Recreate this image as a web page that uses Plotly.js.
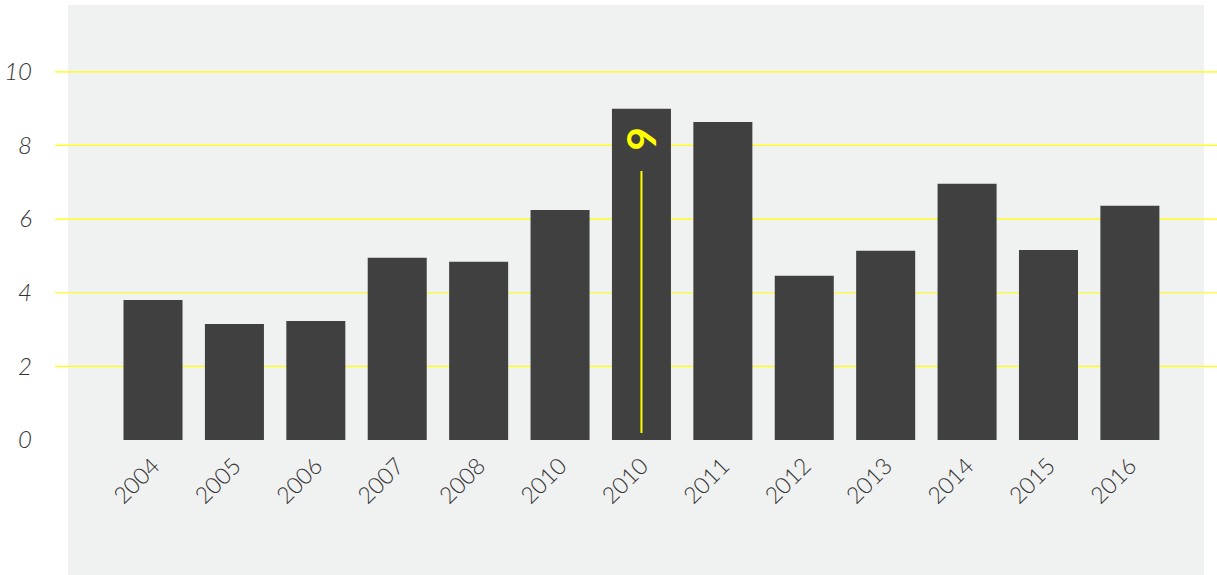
<!DOCTYPE html>
<html>
<head>
<meta charset="utf-8">
<script src="https://cdn.plot.ly/plotly-3.0.1.min.js"></script>
<style>html,body{margin:0;padding:0;background:#fff;}#chart{width:1217px;height:575px;}</style>
</head>
<body>
<div id="chart"></div>
<script>
const yearLabels = ["2004","2005","2006","2007","2008","2010","2010","2011","2012","2013","2014","2015","2016"];
const positions = [0,1,2,3,4,5,6,7,8,9,10,11,12];
const values = [3.8,3.15,3.23,4.95,4.84,6.25,9.0,8.64,4.46,5.14,6.96,5.16,6.36];
const yTicks = [0,2,4,6,8,10];
const gridValues = [2,4,6,8,10];
const highlightIndex = 6;
const highlightLabel = "9";

const trace = {
  type: 'bar',
  x: positions,
  y: values,
  width: 0.725,
  marker: {color: '#404041'},
  hoverinfo: 'skip'
};

const shapes = [{
  type: 'rect', xref: 'paper', yref: 'paper', layer: 'below',
  x0: (68-55)/1162, x1: (1204-55)/1162,
  y0: -(575-440)/405, y1: (440-5)/405,
  fillcolor: '#f0f2f1', line: {width: 0}
}].concat(gridValues.map(v => ({
  type: 'line', xref: 'paper', yref: 'y', layer: 'below',
  x0: 0, x1: 1, y0: v, y1: v,
  line: {color: '#ffff00', width: 1.2}
})));

const layout = {
  width: 1217, height: 575,
  margin: {l: 55, r: 0, t: 35, b: 135},
  paper_bgcolor: '#ffffff',
  plot_bgcolor: 'rgba(0,0,0,0)',
  showlegend: false,
  font: {family: 'Lato, sans-serif', color: '#333333'},
  xaxis: {
    range: [-1.204, 13.07],
    tickvals: positions,
    ticktext: yearLabels,
    tickangle: -45,
    showgrid: false, zeroline: false, showline: false,
    ticks: '',
    ticklabelstandoff: 7,
    tickfont: {family: 'Lato, sans-serif', size: 23, color: '#333333', weight: 300}
  },
  yaxis: {
    range: [0, 11.0],
    tickvals: yTicks,
    ticktext: yTicks.map(String),
    showgrid: false,
    zeroline: false, showline: false,
    ticks: '',
    ticklabelstandoff: 22,
    tickfont: {family: 'Lato, sans-serif', size: 24, color: '#333333', style: 'italic', weight: 300}
  },
  shapes: shapes,
  annotations: [{
    x: positions[highlightIndex], y: 0.19,
    xref: 'x', yref: 'y',
    text: '<b>' + highlightLabel + '</b>',
    textangle: -90,
    font: {family: 'Lato, sans-serif', size: 40, color: '#ffff00'},
    borderpad: 20,
    showarrow: true, arrowhead: 0, arrowwidth: 2, arrowcolor: '#ffff00',
    ax: 0, ay: -294, standoff: 0
  }]
};

Plotly.newPlot('chart', [trace], layout, {displayModeBar: false, staticPlot: true});
</script>
</body>
</html>
